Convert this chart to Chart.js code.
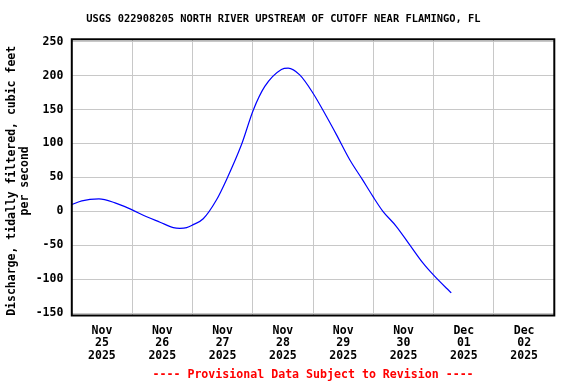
<!DOCTYPE html>
<html>
<head>
<meta charset="utf-8">
<script src="https://cdn.jsdelivr.net/npm/chart.js@4/dist/chart.umd.min.js"></script>
<style>
  body { margin: 0; background: #fff; }
  canvas { display: block; }
</style>
</head>
<body>
<canvas id="myChart" width="576" height="384"></canvas>
<script>
// hours since Nov 25 2025 00:00
const hours = [0, 4, 10.8, 17.2, 23.8, 29.8, 35.1, 40.4, 43, 45.7, 48.3, 52.3, 57.6, 61.6,
    67.5, 72.2, 76.8, 83.4, 86.1, 90.7, 96, 101.3, 105.3, 110.6, 115.6, 119.8, 123.8, 129.1,
    134.4, 139.7, 143.7, 149, 151]
// discharge, cubic feet per second
const discharge = [10, 15.5, 18.2, 12.5, 2.5, -8, -16, -24, -25, -24, -19.6, -11, 17, 47,
    98, 149, 184, 209, 211, 201, 174, 140, 113, 76, 47, 22, 0, -22,
    -49, -76, -93, -113, -120]

const dayLabels = ["Nov 25 2025", "Nov 26 2025", "Nov 27 2025", "Nov 28 2025",
    "Nov 29 2025", "Nov 30 2025", "Dec 01 2025", "Dec 02 2025"]
const yTicks = [-150, -100, -50, 0, 50, 100, 150, 200, 250]

const mono = "'DejaVu Sans Mono', 'Liberation Mono', monospace"

const boxPlugin = {
    id: "box",
    afterDraw(chart) {
        const a = chart.chartArea
        const ctx = chart.ctx
        ctx.save()
        ctx.strokeStyle = "#000"
        ctx.lineWidth = 2
        ctx.strokeRect(a.left, a.top, a.right - a.left, a.bottom - a.top)
        ctx.restore()
    }
}

const ctx = document.getElementById("myChart")

new Chart(ctx, {
    type: "line",
    data: {
        datasets: [{
            data: hours.map((h, i) => ({x: h, y: discharge[i]})),
            borderColor: "#0000ff",
            borderWidth: 1.2,
            pointRadius: 0,
            fill: false,
            cubicInterpolationMode: "monotone"
        }]
    },
    options: {
        responsive: false,
        animation: false,
        layout: {padding: {left: 0, right: 21.7, top: 0, bottom: 0}},
        plugins: {
            legend: {display: false},
            tooltip: {enabled: false},
            title: {
                display: true,
                text: "  USGS 022908205 NORTH RIVER UPSTREAM OF CUTOFF NEAR FLAMINGO, FL",
                color: "#000",
                font: {family: mono, size: 10.4, weight: "bold", lineHeight: 1.2},
                padding: {top: 12.8, bottom: 14}
            }
        },
        scales: {
            x: {
                type: "linear",
                min: 0,
                max: 192,
                afterBuildTicks: (axis) => {
                    const t = []
                    for (let v = 0; v <= 192; v += 12) t.push({value: v})
                    axis.ticks = t
                },
                grid: {
                    color: (c) => (c.tick && c.tick.value % 24 === 0) ? "#c8c8c8" : "rgba(0,0,0,0)",
                    drawTicks: false,
                    lineWidth: 1
                },
                border: {display: false},
                ticks: {
                    autoSkip: false,
                    maxRotation: 0,
                    minRotation: 0,
                    padding: 9,
                    color: "#000",
                    font: {family: mono, size: 11.5, weight: "bold", lineHeight: "12.5px"},
                    callback: (v) => {
                        if (v % 24 !== 12) return ""
                        return dayLabels[(v - 12) / 24].split(" ")
                    }
                },
                title: {
                    display: true,
                    text: "---- Provisional Data Subject to Revision ----",
                    color: "#ff0000",
                    font: {family: mono, size: 11.6, weight: "bold", lineHeight: "14px"},
                    padding: {top: -3, bottom: 2}
                }
            },
            y: {
                min: -153.5,
                max: 253.5,
                afterBuildTicks: (axis) => {
                    axis.ticks = yTicks.map(v => ({value: v}))
                },
                grid: {color: "#c8c8c8", drawTicks: false, lineWidth: 1},
                border: {display: false},
                ticks: {
                    padding: 8.4,
                    color: "#000",
                    font: {family: mono, size: 11.5, weight: "bold"}
                },
                title: {
                    display: true,
                    text: ["Discharge, tidally filtered, cubic feet ", "per second "],
                    color: "#000",
                    font: {family: mono, size: 11.5, weight: "bold", lineHeight: "13.3px"},
                    padding: {top: 5, bottom: -4.3}
                }
            }
        }
    },
    plugins: [boxPlugin]
})
</script>
</body>
</html>
